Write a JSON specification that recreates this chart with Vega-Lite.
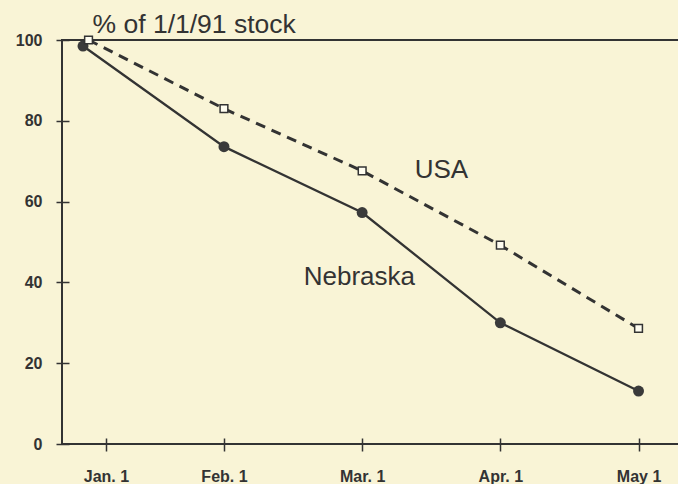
{
  "$schema": "https://vega.github.io/schema/vega-lite/v6.json",
  "autosize": {"type": "none"},
  "padding": {"left": 62, "top": 40, "right": 0, "bottom": 40},
  "width": 618,
  "height": 404,
  "background": "#f9f4d6",
  "config": {
    "view": {"stroke": "#333333", "strokeWidth": 2},
    "font": "Liberation Sans"
  },
  "datasets": {
    "stock": [
      {"series": "USA", "m": 0.02, "pct": 100},
      {"series": "USA", "m": 1, "pct": 83.0},
      {"series": "USA", "m": 2, "pct": 67.6},
      {"series": "USA", "m": 3, "pct": 49.2},
      {"series": "USA", "m": 4, "pct": 28.6},
      {"series": "Nebraska", "m": -0.02, "pct": 98.5},
      {"series": "Nebraska", "m": 1, "pct": 73.6},
      {"series": "Nebraska", "m": 2, "pct": 57.3},
      {"series": "Nebraska", "m": 3, "pct": 30.0},
      {"series": "Nebraska", "m": 4, "pct": 13.1}
    ],
    "labels": [
      {"label": "USA", "m": 2.574, "pct": 65.8},
      {"label": "Nebraska", "m": 1.98, "pct": 39.4}
    ]
  },
  "encoding": {
    "x": {
      "field": "m",
      "type": "quantitative",
      "scale": {"domain": [-0.172, 4.3], "nice": false, "zero": false},
      "axis": {
        "title": null,
        "values": [0.146, 1, 2, 3, 4],
        "labelExpr": "datum.value < 0.5 ? 'Jan. 1' : datum.value < 1.5 ? 'Feb. 1' : datum.value < 2.5 ? 'Mar. 1' : datum.value < 3.5 ? 'Apr. 1' : 'May 1'",
        "grid": false,
        "domain": false,
        "offset": -6,
        "tickSize": 13,
        "tickColor": "#333333",
        "tickWidth": 1.5,
        "labelPadding": 17,
        "labelFont": "Liberation Sans",
        "labelFontSize": 16,
        "labelFontWeight": "bold",
        "labelColor": "#333333"
      }
    },
    "y": {
      "field": "pct",
      "type": "quantitative",
      "scale": {"domain": [0, 100], "nice": false},
      "axis": {
        "title": "% of 1/1/91 stock",
        "titleAngle": 0,
        "titleX": 23,
        "titleY": -8,
        "titleAlign": "left",
        "titleBaseline": "alphabetic",
        "titleFont": "Liberation Sans",
        "titleFontSize": 26.5,
        "titleFontWeight": "normal",
        "titleColor": "#333333",
        "values": [0, 20, 40, 60, 80, 100],
        "grid": false,
        "domain": false,
        "offset": -7,
        "tickSize": 13,
        "tickColor": "#333333",
        "tickWidth": 1.5,
        "labelPadding": 14,
        "labelFont": "Liberation Sans",
        "labelFontSize": 16,
        "labelFontWeight": "bold",
        "labelColor": "#333333"
      }
    }
  },
  "layer": [
    {
      "data": {"name": "stock"},
      "transform": [{"filter": "datum.series === 'Nebraska'"}],
      "mark": {"type": "line", "color": "#333333", "strokeWidth": 2.3}
    },
    {
      "data": {"name": "stock"},
      "transform": [{"filter": "datum.series === 'USA'"}],
      "mark": {"type": "line", "color": "#333333", "strokeWidth": 3, "strokeDash": [10, 7]}
    },
    {
      "data": {"name": "stock"},
      "transform": [{"filter": "datum.series === 'Nebraska'"}],
      "mark": {"type": "point", "shape": "circle", "filled": true, "color": "#3a3a3a", "size": 120, "opacity": 1}
    },
    {
      "data": {"name": "stock"},
      "transform": [{"filter": "datum.series === 'USA'"}],
      "mark": {"type": "point", "shape": "square", "filled": true, "fill": "#fffdf0", "stroke": "#333333", "strokeWidth": 1.5, "size": 60, "opacity": 1}
    },
    {
      "data": {"name": "labels"},
      "mark": {"type": "text", "align": "center", "baseline": "alphabetic", "font": "Liberation Sans", "fontSize": 26, "color": "#333333"},
      "encoding": {"text": {"field": "label"}}
    }
  ]
}
